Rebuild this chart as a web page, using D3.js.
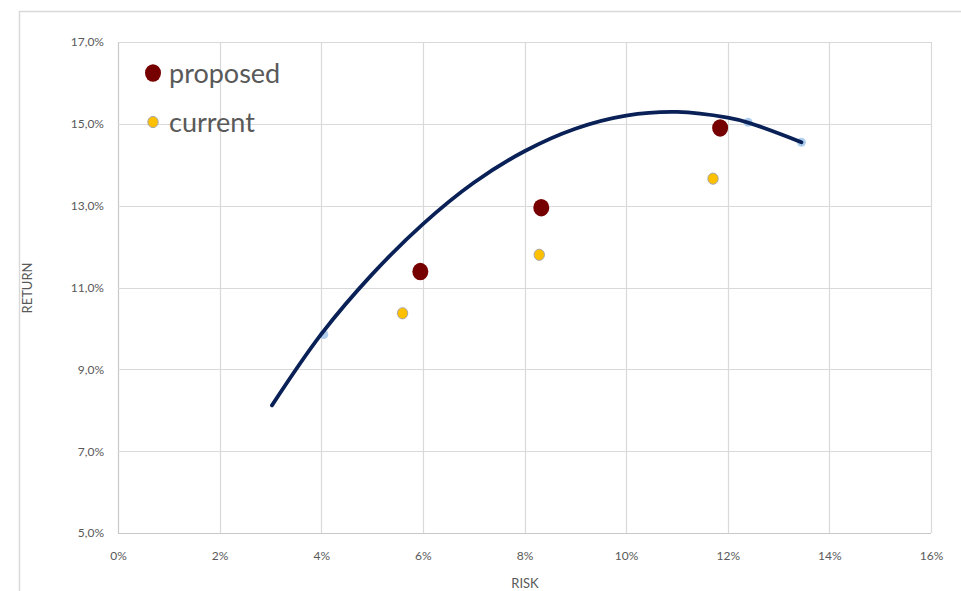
<!DOCTYPE html>
<html>
<head>
<meta charset="utf-8">
<script src="https://cdn.jsdelivr.net/npm/d3@7"></script>
<style>
html,body{margin:0;padding:0;background:#fff;}
svg{display:block;}
text{font-family:Lato,"Open Sans",sans-serif;}
</style>
</head>
<body>
<svg id="chart" width="961" height="591"></svg>
<script>
// ---- data ----
const frontierRisk   = [3.03, 4.0, 5.0, 6.0, 7.0, 8.0, 9.0, 10.0, 11.0, 12.0, 12.4, 13.45];
const frontierReturn = [8.12, 9.86, 11.32, 12.55, 13.56, 14.33, 14.88, 15.2, 15.29, 15.15, 15.03, 14.55];
const markerRisk     = [4.05, 12.4, 13.45];
const markerReturn   = [9.85, 15.04, 14.55];
const proposedRisk   = [5.95, 8.33, 11.85];
const proposedReturn = [11.39, 12.95, 14.9];
const currentRisk    = [5.6, 8.29, 11.71];
const currentReturn  = [10.37, 11.8, 13.66];
const xTicks = [0, 2, 4, 6, 8, 10, 12, 14, 16];
const yTicks = [5, 7, 9, 11, 13, 15, 17];
const legendLabels = ["proposed", "current"];

const svg = d3.select("#chart");
const x = d3.scaleLinear().domain([0, 16]).range([118, 931]);
const y = d3.scaleLinear().domain([5, 17]).range([533, 42]);

// outer chart border
svg.append("path").attr("d", "M19.5,591 L19.5,11.5 L961,11.5")
  .attr("fill", "none").attr("stroke", "#d9d9d9").attr("stroke-width", 1.5);

// gridlines
const grid = svg.append("g");
grid.selectAll(".gx").data(xTicks).join("line")
  .attr("x1", d => Math.round(x(d)) + 0.5).attr("x2", d => Math.round(x(d)) + 0.5)
  .attr("y1", y(17)).attr("y2", y(5))
  .attr("stroke", d => d === 0 ? "#c8c8c8" : "#d9d9d9").attr("stroke-width", 1.2);
grid.selectAll(".gy").data(yTicks).join("line")
  .attr("y1", d => Math.round(y(d)) + 0.5).attr("y2", d => Math.round(y(d)) + 0.5)
  .attr("x1", x(0)).attr("x2", x(16))
  .attr("stroke", d => d === 5 ? "#c8c8c8" : "#d9d9d9").attr("stroke-width", 1.2);

// axes labels via d3 axes
const fmtY = d => d3.format(".1f")(d).replace(".", ",") + "%";
const xAxis = d3.axisBottom(x).tickValues(xTicks).tickFormat(d => d + "%").tickSize(0).tickPadding(18);
const yAxis = d3.axisLeft(y).tickValues(yTicks).tickFormat(fmtY).tickSize(0).tickPadding(14);
const gx = svg.append("g").attr("transform", `translate(0,${y(5)})`).call(xAxis);
const gy = svg.append("g").attr("transform", `translate(${x(0)},0)`).call(yAxis);
[gx, gy].forEach(g => {
  g.select(".domain").remove();
  g.selectAll("text").attr("fill", "#595959").style("font-size", "12px")
    .style("font-family", "Lato, 'Open Sans', sans-serif");
});

// axis titles
svg.append("text").attr("x", 525).attr("y", 588).attr("text-anchor", "middle")
  .attr("fill", "#595959").style("font-size", "13px").text("RISK");
svg.append("text").attr("transform", "translate(32,288) rotate(-90)").attr("text-anchor", "middle")
  .attr("fill", "#595959").style("font-size", "13px").text("RETURN");

// frontier markers (under line)
const markers = markerRisk.map((r, i) => [r, markerReturn[i]]);
svg.append("g").selectAll("circle").data(markers).join("circle")
  .attr("cx", d => x(d[0])).attr("cy", d => y(d[1])).attr("r", 4.5)
  .attr("fill", "#9cc3ea").attr("opacity", 0.8);

// frontier line
const frontier = frontierRisk.map((r, i) => [r, frontierReturn[i]]);
const line = d3.line().x(d => x(d[0])).y(d => y(d[1])).curve(d3.curveCatmullRom.alpha(0.5));
svg.append("path").datum(frontier).attr("d", line)
  .attr("fill", "none").attr("stroke", "#0a2157").attr("stroke-width", 3.8)
  .attr("stroke-linecap", "round").attr("stroke-linejoin", "round");

// proposed
const proposed = proposedRisk.map((r, i) => [r, proposedReturn[i]]);
svg.append("g").selectAll("ellipse").data(proposed).join("ellipse")
  .attr("cx", d => x(d[0])).attr("cy", d => y(d[1])).attr("rx", 8).attr("ry", 8.7)
  .attr("fill", "#760000");

// current
const current = currentRisk.map((r, i) => [r, currentReturn[i]]);
svg.append("g").selectAll("ellipse").data(current).join("ellipse")
  .attr("cx", d => x(d[0])).attr("cy", d => y(d[1])).attr("rx", 5.2).attr("ry", 5.6)
  .attr("fill", "#ffc000").attr("stroke", "#a6a6a6").attr("stroke-width", 1);

// legend
const lg = svg.append("g");
lg.append("ellipse").attr("cx", 153).attr("cy", 73).attr("rx", 8).attr("ry", 8.7).attr("fill", "#760000");
lg.append("text").attr("x", 169).attr("y", 83).attr("fill", "#595959")
  .style("font-size", "27px").text(legendLabels[0]);
lg.append("ellipse").attr("cx", 153).attr("cy", 122).attr("rx", 5.2).attr("ry", 5.6)
  .attr("fill", "#ffc000").attr("stroke", "#a6a6a6").attr("stroke-width", 1);
lg.append("text").attr("x", 169).attr("y", 132).attr("fill", "#595959")
  .style("font-size", "27px").text(legendLabels[1]);
</script>
</body>
</html>
